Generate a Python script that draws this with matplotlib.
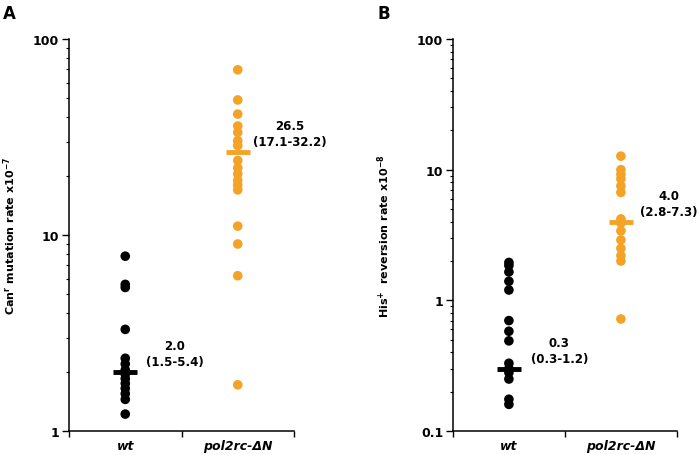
import numpy as np
import matplotlib
matplotlib.use('Agg')
import matplotlib.pyplot as plt
from matplotlib.ticker import LogLocator, NullFormatter

plt.rcParams['font.family'] = ['DejaVu Sans']
plt.rcParams['font.weight'] = 'bold'
plt.rcParams['mathtext.default'] = 'bf'

groups = ['wt', 'pol2rc-ΔN']
colors = ['#000000', '#F5A327']

# panel A: Can^r mutation rate x10^-7
canr_wt = [7.8, 5.6, 5.4, 3.3, 2.35, 2.2, 2.05, 1.95, 1.85, 1.75, 1.65, 1.55, 1.45, 1.22]
canr_pol = [69.7, 48.9, 41.4, 36.0, 33.4, 30.3, 28.6, 24.0, 22.0, 20.5, 19.0, 18.0, 17.0,
            11.1, 9.0, 6.2, 1.72]
canr_med = [2.0, 26.5]
canr_txt = ['2.0\n(1.5-5.4)', '26.5\n(17.1-32.2)']
canr_ticks = [1, 10, 100]
canr_ticklabels = ['1', '10', '100']

# panel B: His+ reversion rate x10^-8
his_wt = [1.95, 1.85, 1.65, 1.4, 1.2, 0.70, 0.58, 0.49, 0.33, 0.30, 0.28, 0.25, 0.175, 0.16]
his_pol = [12.7, 10.0, 9.2, 8.5, 7.5, 6.7, 4.2, 3.9, 3.4, 2.9, 2.5, 2.2, 2.0, 0.72]
his_med = [0.3, 4.0]
his_txt = ['0.3\n(0.3-1.2)', '4.0\n(2.8-7.3)']
his_ticks = [0.1, 1, 10, 100]
his_ticklabels = ['0.1', '1', '10', '100']

fig = plt.figure(figsize=(7, 4.56), dpi=100)
axA = fig.add_axes([0.0986, 0.0526, 0.3214, 0.8596])
axB = fig.add_axes([0.647, 0.0526, 0.320, 0.8596])


def panel(ax, series, med, txt, ticks, ticklabels, ylim, ylabel, lx, tx):
    pos = [0.5, 1.5]
    for p, vals, c in zip(pos, series, colors):
        ax.scatter([p] * len(vals), vals, s=48, color=c, edgecolors='none', zorder=3)
    for p, m, c, t, dx in zip(pos, med, colors, txt, tx):
        ax.hlines(m, p - 0.105, p + 0.105, color=c, lw=3.5, zorder=4)
        ax.annotate(t, xy=(p + dx, m), xytext=(0, 3), textcoords='offset points',
                    ha='center', va='bottom', fontsize=8.5, fontweight='bold',
                    linespacing=1.3, multialignment='center', annotation_clip=False)
    ax.set_yscale('log')
    ax.set_ylim(*ylim)
    ax.set_xlim(0, 2)
    ax.set_yticks(ticks)
    ax.set_yticklabels(ticklabels, fontsize=9, fontweight='bold')
    ax.yaxis.set_minor_locator(LogLocator(base=10, subs=np.arange(2, 10)))
    ax.yaxis.set_minor_formatter(NullFormatter())
    ax.set_xticks([0, 1, 2])
    ax.set_xticklabels(['', '', ''])
    ax.set_xticks(pos, minor=True)
    ax.set_xticklabels(groups, minor=True, fontsize=9, fontweight='bold', style='italic')
    ax.tick_params(axis='x', which='minor', length=0, pad=6)
    ax.tick_params(axis='x', which='major', length=4, width=1, direction='out')
    ax.tick_params(axis='y', which='major', length=5, width=1, pad=2)
    ax.tick_params(axis='y', which='minor', length=2.5, width=0.8)
    for s in ['top', 'right']:
        ax.spines[s].set_visible(False)
    for s in ['left', 'bottom']:
        ax.spines[s].set_linewidth(1.1)
    ax.set_ylabel(ylabel, fontsize=8, fontweight='bold')
    ax.yaxis.set_label_coords(lx, 0.5)


panel(axA, [canr_wt, canr_pol], canr_med, canr_txt, canr_ticks, canr_ticklabels,
      (1, 100), r'Can$^{r}$ mutation rate x10$^{-7}$', -0.225, [0.44, 0.46])
panel(axB, [his_wt, his_pol], his_med, his_txt, his_ticks, his_ticklabels,
      (0.1, 100), r'His$^{+}$  reversion rate x10$^{-8}$', -0.272, [0.45, 0.43])

fig.text(0.004, 0.99, 'A', fontsize=12, fontweight='bold', va='top', ha='left')
fig.text(0.539, 0.99, 'B', fontsize=12, fontweight='bold', va='top', ha='left')

fig.savefig('out.png', dpi=100)
